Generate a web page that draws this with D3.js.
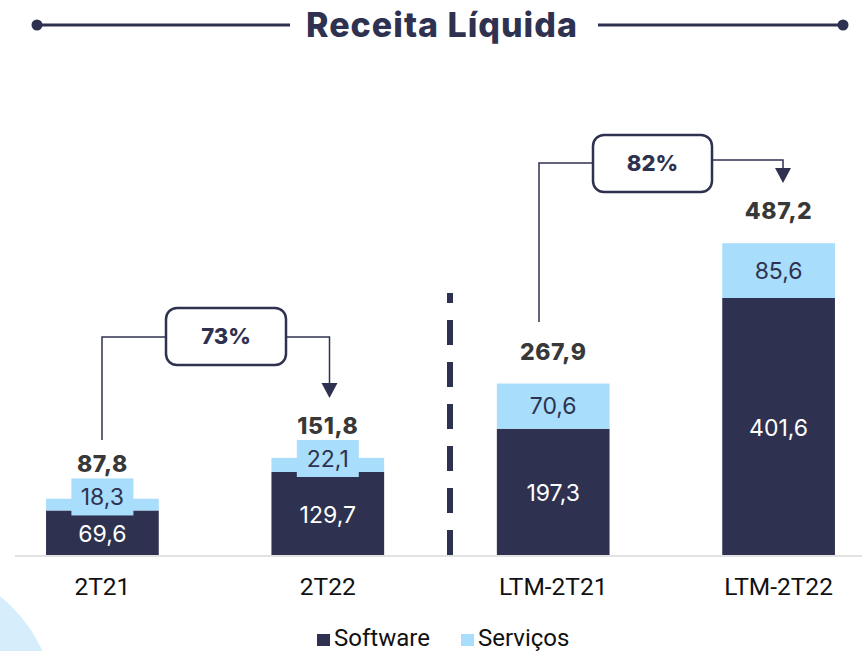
<!DOCTYPE html>
<html>
<head>
<meta charset="utf-8">
<script src="https://cdn.jsdelivr.net/npm/d3@7"></script>
<style>
  body { margin: 0; background: #fff; }
  svg { display: block; }
</style>
</head>
<body>
<div id="chart"></div>
<script>
const categories = ["2T21", "2T22", "LTM-2T21", "LTM-2T22"];
const software = [69.6, 129.7, 197.3, 401.6];
const servicos = [18.3, 22.1, 70.6, 85.6];
const totals = [87.8, 151.8, 267.9, 487.2];
const growth = [{from: 0, to: 1, label: "73%"}, {from: 2, to: 3, label: "82%"}];
const seriesNames = ["Software", "Serviços"];

const width = 862, height = 651;
const navy = "#2e3250", light = "#a8ddfb";
const fmt = v => d3.format(".1f")(v).replace(".", ",");

const svg = d3.select("#chart").append("svg")
    .attr("width", width)
    .attr("height", height);

// decorative blob bottom-left
svg.append("circle")
    .attr("cx", -90).attr("cy", 710).attr("r", 145)
    .attr("fill", "#d6edfc");

// Title with side rules
svg.append("text")
    .attr("x", 442).attr("y", 37)
    .attr("text-anchor", "middle")
    .attr("font-family", "Inter")
    .attr("font-weight", 800)
    .attr("font-size", 34)
    .attr("letter-spacing", "1")
    .attr("fill", navy)
    .text("Receita Líquida");
[[37, 290], [598, 843]].forEach(([a, b]) => {
    svg.append("line").attr("x1", a).attr("x2", b).attr("y1", 25).attr("y2", 25)
        .attr("stroke", navy).attr("stroke-width", 3);
});
[37, 843].forEach(x => svg.append("circle").attr("cx", x).attr("cy", 25).attr("r", 5.5).attr("fill", navy));

// Scales
const xScale = d3.scaleBand().domain(categories).range([-10.3, 891.3]).paddingInner(0.5).paddingOuter(0.25);
const yScale = d3.scaleLinear().domain([0, 500]).range([555, 235]);

// baseline
svg.append("line").attr("x1", 15).attr("x2", 862).attr("y1", 556).attr("y2", 556)
    .attr("stroke", "#e2e2e2").attr("stroke-width", 2);

const data = categories.map((c, i) => ({cat: c, sw: software[i], sv: servicos[i], total: totals[i]}));
const stack = d3.stack().keys(["sw", "sv"])(data);
const colors = [navy, light];

stack.forEach((layer, li) => {
    svg.append("g").selectAll("rect")
        .data(layer)
        .join("rect")
        .attr("x", d => xScale(d.data.cat))
        .attr("y", d => yScale(d[1]))
        .attr("width", xScale.bandwidth())
        .attr("height", d => yScale(d[0]) - yScale(d[1]))
        .attr("fill", colors[li]);
});

// segment labels
const bw = xScale.bandwidth();
data.forEach(d => {
    const cx = xScale(d.cat) + bw / 2;
    const ySwTop = yScale(d.sw), yTop = yScale(d.sw + d.sv);
    let svMid = (ySwTop + yTop) / 2;
    let totalY = yTop - 24;
    if (ySwTop - yTop < 34) {
        // small segment: label sits on a light box that rises above the bar
        svg.append("rect")
            .attr("x", cx - 31).attr("y", ySwTop - 32)
            .attr("width", 62).attr("height", 37)
            .attr("fill", light);
        svMid = ySwTop - 13.5;
        totalY = ySwTop - 38;
    }
    svg.append("text")
        .attr("x", cx).attr("y", svMid).attr("dy", "0.36em")
        .attr("text-anchor", "middle")
        .attr("font-family", "Inter").attr("font-size", 23)
        .attr("fill", navy)
        .text(fmt(d.sv));
    svg.append("text")
        .attr("x", cx).attr("y", (ySwTop + yScale(0)) / 2 + 1).attr("dy", "0.36em")
        .attr("text-anchor", "middle")
        .attr("font-family", "Inter").attr("font-size", 23)
        .attr("fill", "#fff")
        .text(fmt(d.sw));
    svg.append("text")
        .attr("x", cx).attr("y", totalY)
        .attr("text-anchor", "middle")
        .attr("font-family", "Inter").attr("font-weight", 800).attr("font-size", 23)
        .attr("letter-spacing", "0.6")
        .attr("fill", "#383838")
        .text(fmt(d.total));
});

// x axis labels
const xAxis = d3.axisBottom(xScale).tickSize(0).tickPadding(0);
const axisG = svg.append("g").attr("transform", "translate(0,595)").call(xAxis);
axisG.select(".domain").remove();
axisG.selectAll("text")
    .attr("font-family", "Roboto").attr("font-size", 24.5).attr("fill", "#111")
    .attr("dy", "0");

// dashed divider
svg.append("line")
    .attr("x1", 450).attr("x2", 450).attr("y1", 293).attr("y2", 555)
    .attr("stroke", navy).attr("stroke-width", 6)
    .attr("stroke-dasharray", "10 17 25 17 25 17 25 17 25 17 25 17 25 17");

// growth connectors
const boxes = [
    {x: 166, y: 308, w: 120, h: 57, leftX: 102, leftBottom: 440, leftY: 337, rightY: 337, rightX: 329.5, tip: 398},
    {x: 593, y: 135, w: 119, h: 57, leftX: 539, leftBottom: 322, leftY: 163, rightY: 160, rightX: 783, tip: 183}
];
growth.forEach((g, i) => {
    const b = boxes[i];
    svg.append("path")
        .attr("d", `M${b.leftX},${b.leftBottom}V${b.leftY}H${b.x}`)
        .attr("fill", "none").attr("stroke", navy).attr("stroke-width", 1.5);
    svg.append("path")
        .attr("d", `M${b.x + b.w},${b.rightY}H${b.rightX}V${b.tip - 14}`)
        .attr("fill", "none").attr("stroke", navy).attr("stroke-width", 1.5);
    svg.append("path")
        .attr("d", `M${b.rightX - 8},${b.tip - 15}L${b.rightX + 8},${b.tip - 15}L${b.rightX},${b.tip}Z`)
        .attr("fill", navy);
    svg.append("rect")
        .attr("x", b.x).attr("y", b.y).attr("width", b.w).attr("height", b.h)
        .attr("rx", 11).attr("fill", "#fff").attr("stroke", navy).attr("stroke-width", 2.5);
    svg.append("text")
        .attr("x", b.x + b.w / 2).attr("y", b.y + b.h / 2).attr("dy", "0.36em")
        .attr("text-anchor", "middle")
        .attr("font-family", "Inter").attr("font-weight", 800).attr("font-size", 22)
        .attr("fill", navy)
        .text(g.label);
});

// legend
const legend = svg.append("g").attr("transform", "translate(317,646)");
const legendX = [0, 144];
seriesNames.forEach((n, i) => {
    legend.append("rect").attr("x", legendX[i]).attr("y", -12).attr("width", 13).attr("height", 12)
        .attr("fill", colors[i]);
    legend.append("text").attr("x", legendX[i] + 17).attr("y", 0)
        .attr("font-family", "Roboto").attr("font-size", 24).attr("fill", "#111")
        .text(n);
});
</script>
</body>
</html>
